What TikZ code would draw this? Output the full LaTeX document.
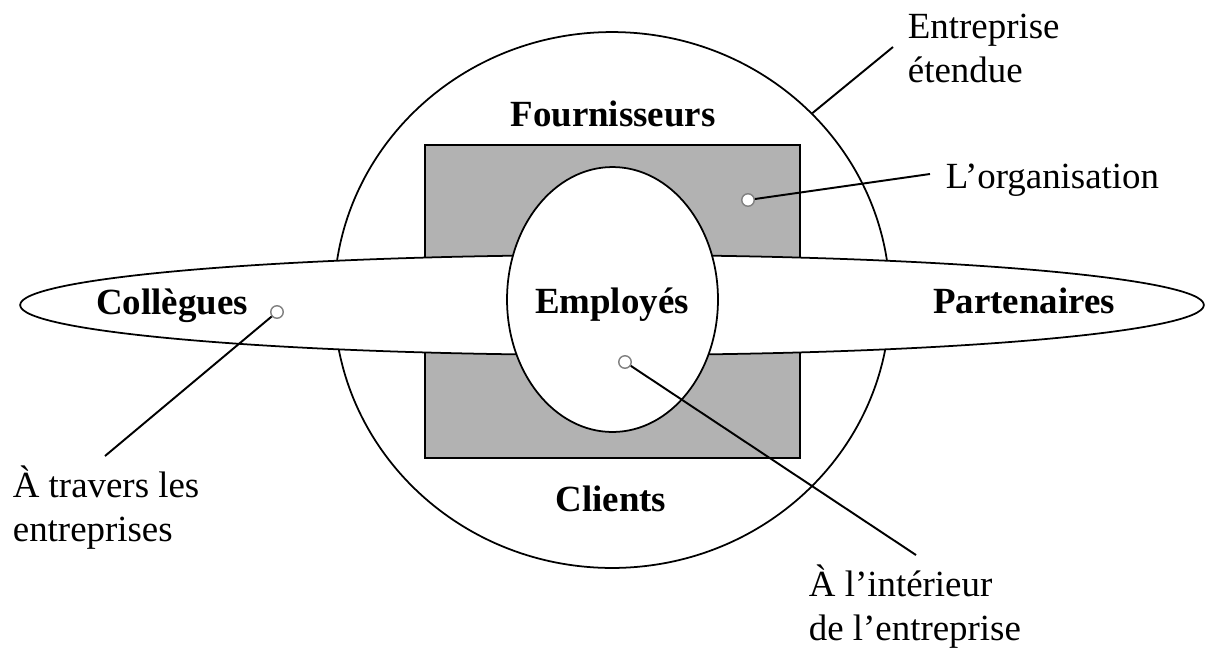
\documentclass[tikz,border=0pt]{standalone}
\usepackage{fontspec}
\setmainfont{Liberation Serif}
\usetikzlibrary{shapes.geometric}
\definecolor{orggray}{RGB}{178,178,178}

\begin{document}
\begin{tikzpicture}[x=0.02cm, y=-0.02cm, line width=1pt,
    zone/.style={draw, ellipse, fill=white, inner sep=0pt},
    dot/.style={circle, draw=gray, fill=white, line width=0.8pt,
      inner sep=0pt, minimum size=0.25cm},
    titre/.style={font=\fontsize{21}{24.5}\selectfont\bfseries, inner sep=0pt, anchor=base},
    lbl/.style={font=\fontsize{21}{24.5}\selectfont, inner sep=0pt, align=left, anchor=base west},
    trait/.style={line width=1.1pt}]
\useasboundingbox (0,0) rectangle (1213,650);

% the shapes, back to front
\node[zone, minimum width=11.12cm, minimum height=10.72cm] (etendue) at (612,300) {};
\node[draw, fill=orggray, line width=1.1pt, inner sep=0pt,
  minimum width=7.5cm, minimum height=6.26cm] (orga) at (612.5,301.5) {};
\node[zone, minimum width=23.68cm, minimum height=2cm] (anneau) at (612,305) {};
\node[zone, minimum width=4.22cm, minimum height=5.3cm] (interne) at (612.5,299.5) {};

% groups
\node[titre] (fourn) at (613,126) {Fournisseurs};
\node[titre] (clients) at (611,511) {Clients};
\node[titre] (employes) at (612,313) {Employés};
\node[titre] (collegues) at (172,314) {Collègues};
\node[titre] (partenaires) at (1024,313) {Partenaires};

% markers
\node[dot] (pOrga) at (748,200) {};
\node[dot] (pColl) at (277,312) {};
\node[dot] (pEmpl) at (625,362) {};

% callouts (base = last line)
\node[lbl] (lEtendue) at (907,82) {Entreprise\\étendue};
\node[lbl] (lOrga) at (945,188) {L’organisation};
\node[lbl] (lTravers) at (12,541) {À travers les\\entreprises};
\node[lbl] (lInterieur) at (808,640) {À l’intérieur\\de l’entreprise};

\coordinate (eEtendue) at (893,47);
\coordinate (eOrga) at (930,174);
\coordinate (eColl) at (105,456);
\coordinate (eEmpl) at (916,555);

\draw[trait] (etendue.43.5) -- (eEtendue);
\draw[trait] (pOrga) -- (eOrga);
\draw[trait] (pColl) -- (eColl);
\draw[trait] (pEmpl) -- (eEmpl);
\end{tikzpicture}
\end{document}
